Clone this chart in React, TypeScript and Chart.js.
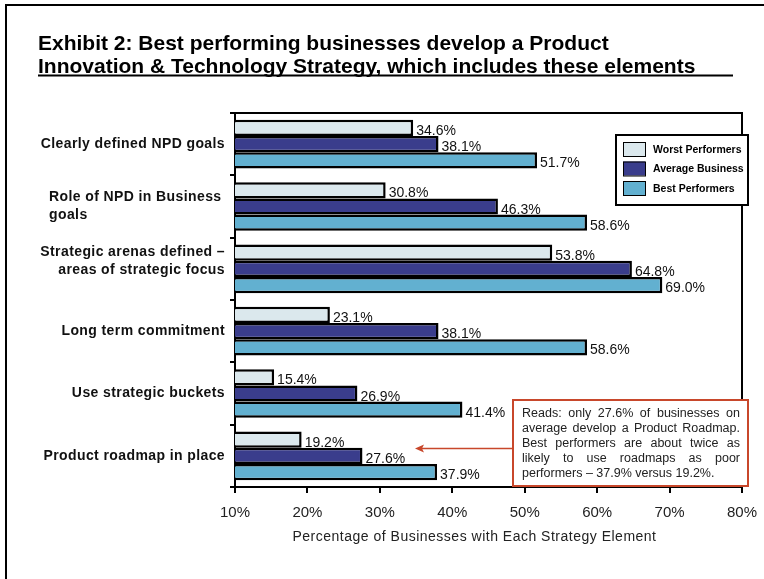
import React, { useEffect, useRef } from "react";
import { Chart, registerables } from "chart.js";

Chart.register(...registerables);

const categories: string[][] = [
  ["Clearly defined NPD goals"],
  ["Role of NPD in Business", "goals"],
  ["Strategic arenas defined \u2013", "areas of strategic focus"],
  ["Long term commitment"],
  ["Use strategic buckets"],
  ["Product roadmap in place"],
];
const worstPerformers = [34.6, 30.8, 53.8, 23.1, 15.4, 19.2];
const averageBusiness = [38.1, 46.3, 64.8, 38.1, 26.9, 27.6];
const bestPerformers = [51.7, 58.6, 69.0, 58.6, 41.4, 37.9];
const seriesNames = ["Worst Performers", "Average Business", "Best Performers"];
const xTicks = [10, 20, 30, 40, 50, 60, 70, 80];
const titleLines = [
  "Exhibit 2: Best performing businesses develop a Product",
  "Innovation & Technology Strategy, which includes these elements",
];
const xAxisTitle = "Percentage of Businesses with Each Strategy Element";
const noteText =
  "Reads: only 27.6% of businesses on average develop a Product Roadmap. Best performers are about twice as likely to use roadmaps as poor performers \u2013 37.9% versus 19.2%.";

const COLORS = ["#dbe8ed", "#3a3d8c", "#62b0d0"];
const NOTE_RED = "#c8472b";
const FONT = "'Liberation Sans', Arial, sans-serif";

function wrapJustify(ctx: CanvasRenderingContext2D, text: string, maxW: number) {
  const words = text.split(" ");
  const lines: string[][] = [];
  let cur: string[] = [];
  for (const w of words) {
    const test = [...cur, w].join(" ");
    if (ctx.measureText(test).width > maxW && cur.length) {
      lines.push(cur);
      cur = [w];
    } else cur.push(w);
  }
  if (cur.length) lines.push(cur);
  return lines;
}

function setSpacing(ctx: any, v: string) {
  if ("letterSpacing" in ctx) ctx.letterSpacing = v;
}

const decorPlugin = {
  id: "decor",
  afterDraw(chart: any) {
    const ctx: CanvasRenderingContext2D = chart.ctx;
    const area = chart.chartArea;
    const xs = chart.scales.x;
    const ys = chart.scales.y;
    ctx.save();

    // outer frame (left, top)
    ctx.strokeStyle = "#000";
    ctx.lineWidth = 2;
    ctx.beginPath();
    ctx.moveTo(6, 579);
    ctx.lineTo(6, 5);
    ctx.lineTo(764, 5);
    ctx.stroke();

    // title
    ctx.fillStyle = "#000";
    ctx.font = `bold 21px ${FONT}`;
    ctx.textBaseline = "alphabetic";
    ctx.textAlign = "left";
    ctx.fillText(titleLines[0], 38, 50);
    ctx.fillText(titleLines[1], 38, 73);
    ctx.fillRect(38, 74.5, 695, 2);

    // plot frame top & right
    ctx.lineWidth = 2;
    ctx.beginPath();
    ctx.moveTo(area.left, area.top);
    ctx.lineTo(area.right, area.top);
    ctx.lineTo(area.right, area.bottom);
    ctx.stroke();

    // category labels
    ctx.font = `bold 14px ${FONT}`;
    setSpacing(ctx, "0.4px");
    ctx.fillStyle = "#111";
    ctx.textBaseline = "middle";
    categories.forEach((lines, i) => {
      const cy = ys.getPixelForValue(i) + (i === 2 ? -8 : 0);
      const lh = 18;
      lines.forEach((ln, j) => {
        const y = cy + (j - (lines.length - 1) / 2) * lh;
        if (i === 1) {
          ctx.textAlign = "left";
          ctx.fillText(ln, 49, y);
        } else {
          ctx.textAlign = "right";
          ctx.fillText(ln, 225, y);
        }
      });
    });
    setSpacing(ctx, "0px");

    // value labels
    ctx.font = `14px ${FONT}`;
    ctx.fillStyle = "#111";
    ctx.textAlign = "left";
    ctx.textBaseline = "alphabetic";
    chart.data.datasets.forEach((ds: any, di: number) => {
      const meta = chart.getDatasetMeta(di);
      meta.data.forEach((bar: any, i: number) => {
        ctx.fillText(ds.data[i].toFixed(1) + "%", bar.x + 3, bar.y + 7);
      });
    });

    // x axis title
    ctx.font = `14px ${FONT}`;
    setSpacing(ctx, "0.5px");
    ctx.fillStyle = "#222";
    ctx.textAlign = "center";
    ctx.textBaseline = "middle";
    ctx.fillText(xAxisTitle, (xs.left + xs.right) / 2 - 14, 537);
    setSpacing(ctx, "0px");

    // legend
    const lx = 616, ly = 135, lw = 132, lh2 = 70;
    ctx.fillStyle = "#fff";
    ctx.fillRect(lx, ly, lw, lh2);
    ctx.strokeStyle = "#000";
    ctx.lineWidth = 2;
    ctx.strokeRect(lx, ly, lw, lh2);
    ctx.font = `bold 10.5px ${FONT}`;
    ctx.textAlign = "left";
    ctx.textBaseline = "middle";
    seriesNames.forEach((name, i) => {
      const sy = 142 + i * 19.5;
      ctx.fillStyle = COLORS[i];
      ctx.fillRect(623, sy, 22, 14);
      ctx.lineWidth = 1;
      ctx.strokeStyle = "#000";
      ctx.strokeRect(623.5, sy + 0.5, 22, 14);
      ctx.fillStyle = "#000";
      ctx.fillText(name, 653, sy + 8);
    });

    // annotation box
    const bx = 513, by = 400, bw = 235, bh = 86;
    ctx.fillStyle = "#fff";
    ctx.fillRect(bx, by, bw, bh);
    ctx.strokeStyle = NOTE_RED;
    ctx.lineWidth = 2;
    ctx.strokeRect(bx, by, bw, bh);
    ctx.font = `12.5px ${FONT}`;
    ctx.fillStyle = "#222";
    ctx.textAlign = "left";
    ctx.textBaseline = "middle";
    const tx = 522, tw = 218;
    const lines = wrapJustify(ctx, noteText, tw);
    lines.forEach((words, li) => {
      const y = 414 + li * 14.8;
      if (li === lines.length - 1 || words.length === 1) {
        ctx.fillText(words.join(" "), tx, y);
      } else {
        const total = words.reduce((s, w) => s + ctx.measureText(w).width, 0);
        const gap = (tw - total) / (words.length - 1);
        let x = tx;
        words.forEach((w) => {
          ctx.fillText(w, x, y);
          x += ctx.measureText(w).width + gap;
        });
      }
    });

    // arrow
    ctx.strokeStyle = NOTE_RED;
    ctx.fillStyle = NOTE_RED;
    ctx.lineWidth = 1.5;
    ctx.beginPath();
    ctx.moveTo(bx, 448.5);
    ctx.lineTo(422, 448.5);
    ctx.stroke();
    ctx.beginPath();
    ctx.moveTo(415, 448.5);
    ctx.lineTo(424, 444.5);
    ctx.lineTo(422, 448.5);
    ctx.lineTo(424, 452.5);
    ctx.closePath();
    ctx.fill();

    ctx.restore();
  },
};

export default function App() {
  const ref = useRef<HTMLCanvasElement>(null);
  useEffect(() => {
    document.body.style.margin = "0";
    const chart = new Chart(ref.current!, {
      type: "bar",
      data: {
        labels: categories.map((c) => c.join(" ")),
        datasets: [worstPerformers, averageBusiness, bestPerformers].map((d, i) => ({
          label: seriesNames[i],
          data: d,
          backgroundColor: COLORS[i],
          borderColor: "#000",
          borderWidth: 2.5,
          borderSkipped: false,
          categoryPercentage: 0.78,
          barPercentage: 1,
        })),
      },
      options: {
        indexAxis: "y",
        animation: false,
        responsive: false,
        maintainAspectRatio: false,
        layout: { padding: { left: 0, right: 22, top: 113, bottom: 0 } },
        plugins: { legend: { display: false }, tooltip: { enabled: false } },
        scales: {
          x: {
            min: 10,
            max: 80,
            afterBuildTicks: (s: any) => {
              s.ticks = xTicks.map((v) => ({ value: v }));
            },
            afterFit: (s: any) => {
              s.height = 92;
              s.paddingLeft = 0;
              s.paddingRight = 0;
            },
            ticks: {
              callback: (v: any) => v + "%",
              font: { family: FONT, size: 15 },
              color: "#222",
              padding: 11,
            },
            grid: {
              drawOnChartArea: false,
              drawTicks: true,
              tickLength: 6,
              color: "#000",
              lineWidth: 2,
            },
            border: { display: true, color: "#000", width: 2 },
          },
          y: {
            afterFit: (s: any) => {
              s.width = 235;
            },
            ticks: { display: false },
            grid: {
              offset: true,
              drawOnChartArea: false,
              drawTicks: true,
              tickLength: 5,
              color: "#000",
              lineWidth: 2,
            },
            border: { display: true, color: "#000", width: 2 },
          },
        },
      },
      plugins: [decorPlugin],
    } as any);
    return () => chart.destroy();
  }, []);
  return (
    <div style={{ width: 764, height: 579, background: "#fff" }}>
      <canvas ref={ref} width={764} height={579} style={{ display: "block" }} />
    </div>
  );
}
